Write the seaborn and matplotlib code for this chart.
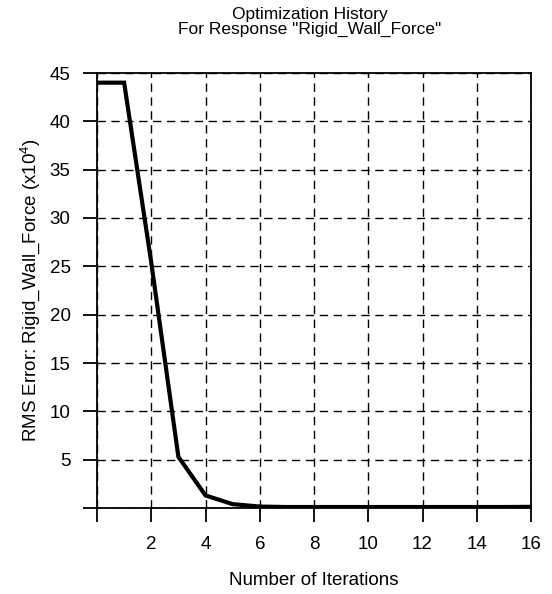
import matplotlib
matplotlib.use("Agg")
import matplotlib.pyplot as plt
import seaborn as sns
import pandas as pd

# Optimization history of the RMS error (x10^4) per iteration
iterations = [0, 1, 2, 3, 4, 5, 6, 7, 8, 9, 10, 11, 12, 13, 14, 15, 16]
rms_error = [44.0, 44.0, 25.4, 5.3, 1.3, 0.4, 0.15, 0.1, 0.1, 0.1, 0.1,
             0.1, 0.1, 0.1, 0.1, 0.1, 0.12]

x_ticks = [0, 2, 4, 6, 8, 10, 12, 14, 16]
x_tick_labels = ["", "2", "4", "6", "8", "10", "12", "14", "16"]
y_ticks = [0, 5, 10, 15, 20, 25, 30, 35, 40, 45]
y_tick_labels = ["", "5", "10", "15", "20", "25", "30", "35", "40", "45"]

sns.set_style("white")
plt.rcParams["font.family"] = ["Liberation Sans", "DejaVu Sans"]
plt.rcParams["mathtext.default"] = "regular"
plt.rcParams["text.color"] = "black"
plt.rcParams["axes.labelcolor"] = "black"

df = pd.DataFrame({"iteration": iterations, "rms": rms_error})

fig = plt.figure(figsize=(5.52, 5.94), dpi=100)
ax = fig.add_axes([97 / 552, 86 / 594, 434 / 552, 435 / 594])

sns.lineplot(data=df, x="iteration", y="rms", ax=ax, color="black",
             linewidth=3.0, solid_joinstyle="miter", zorder=3)

ax.set_xlim(0, 16)
ax.set_ylim(0, 45)
ax.set_xticks(x_ticks)
ax.set_xticklabels(x_tick_labels)
ax.set_yticks(y_ticks)
ax.set_yticklabels(y_tick_labels)

ax.grid(True, color="black", linestyle=(0, (6, 4)), linewidth=1.0)
ax.set_axisbelow(True)
for side in ["left", "right", "top", "bottom"]:
    ax.spines[side].set_visible(True)
    ax.spines[side].set_color("black")
    ax.spines[side].set_linewidth(1.3)

ax.tick_params(axis="both", which="major", direction="out", length=10,
               width=1.3, color="black", labelsize=13.5, labelcolor="black",
               bottom=True, left=True, top=False, right=False)
ax.tick_params(axis="x", pad=10)
ax.tick_params(axis="y", pad=9)

ax.set_xlabel("Number of Iterations", fontsize=13.5, color="black")
ax.xaxis.set_label_coords(0.5, -0.147)
ax.set_ylabel("RMS Error: Rigid_Wall_Force (x10$^4$)", fontsize=13.5,
              color="black")
ax.yaxis.set_label_coords(-0.127, 0.5)

fig.text(0.561, 0.988, "Optimization History\nFor Response \"Rigid_Wall_Force\"",
         ha="center", va="top", fontsize=12.5, linespacing=1.0, color="black")

fig.savefig("out.png", dpi=100)
